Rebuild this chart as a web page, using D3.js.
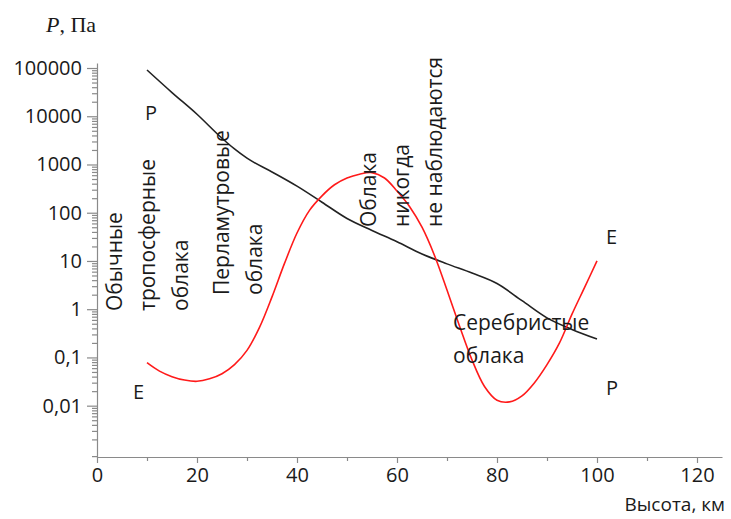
<!DOCTYPE html>
<html>
<head>
<meta charset="utf-8">
<script src="https://cdn.jsdelivr.net/npm/d3@7"></script>
<style>
	body { margin: 0; background: #fff; }
	.axis text { font-family: 'Open Sans', sans-serif; font-size: 20px; fill: #1a1a1a; }
	.axis path, .axis line { stroke: #8a8a8a; stroke-width: 1.2; }
	.note { font-family: 'Open Sans', sans-serif; font-size: 21px; fill: #1a1a1a; }
</style>
</head>
<body>
<div id="chart"></div>
<script>
// pressure P, Pa (black line)
const pHeights = [10, 15, 20, 25, 27.5, 30, 35, 40, 45, 50, 55, 60, 65, 70, 75, 80, 85, 90, 95, 100];
const pValues = [91000, 31000, 11000, 3500, 2100, 1350, 700, 355, 165, 76, 43, 25, 14, 8.7, 5.6, 3.4, 1.5, 0.66, 0.38, 0.24];

// E (red line)
const eHeights = [10, 12.5, 15, 17.5, 20, 22.5, 25, 27.5, 30, 32.5, 35, 37.5, 40, 42.5, 45, 47.5, 50, 52.5, 55, 57.5, 60, 62.5, 65, 67.5, 70, 72.5, 75, 77.5, 80, 82.5, 85, 87.5, 90, 92.5, 95, 97.5, 100];
const eValues = [0.078, 0.052, 0.04, 0.034, 0.032, 0.036, 0.046, 0.071, 0.14, 0.42, 1.8, 8.9, 38, 112, 224, 380, 525, 630, 676, 525, 282, 135, 50, 13, 2.5, 0.45, 0.089, 0.025, 0.013, 0.012, 0.016, 0.03, 0.071, 0.2, 0.79, 2.8, 10];

// ticks
const xTicks = [0, 20, 40, 60, 80, 100, 120];
const xMinorTicks = [10, 30, 50, 70, 90, 110];
const yTicks = [1e5, 1e4, 1000, 100, 10, 1, 0.1, 0.01];
const yTickLabels = ['100000', '10000', '1000', '100', '10', '1', '0,1', '0,01'];

// annotation texts
const tropoLines = ['Обычные', 'тропосферные', 'облака'];
const nacreLines = ['Перламутровые', 'облака'];
const neverLines = ['Облака', 'никогда', 'не наблюдаются'];
const silverLines = ['Серебристые', 'облака'];

class CloudVis {
	constructor(parentElement) {
		this.parentElement = parentElement;
		this.initVis();
	}

	initVis() {
		let vis = this;

		vis.width = 731;
		vis.height = 519;

		vis.svg = d3
			.select('#' + vis.parentElement)
			.append('svg')
			.attr('width', vis.width)
			.attr('height', vis.height);

		// scales
		vis.x = d3.scaleLinear().domain([0, 125]).range([97, 722]);
		vis.y = d3.scaleLog().domain([8.63e-4, 1.27e5]).range([457, 63]);

		vis.drawAxes();
		vis.updateVis();
	}

	drawAxes() {
		let vis = this;

		// minor log ticks
		let minor = [];
		for (let e = -4; e <= 5; e++) {
			for (let m = 2; m <= 9; m++) {
				let v = m * Math.pow(10, e);
				if (v > vis.y.domain()[0] && v < vis.y.domain()[1]) minor.push(v);
			}
		}

		vis.svg
			.append('g')
			.attr('class', 'axis')
			.attr('transform', `translate(${vis.x(0)}, 0)`)
			.call(d3.axisLeft(vis.y).tickValues(minor).tickFormat('').tickSize(5).tickSizeOuter(0))
			.select('.domain')
			.remove();

		vis.svg
			.append('g')
			.attr('class', 'axis')
			.attr('transform', `translate(${vis.x(0)}, 0)`)
			.call(
				d3
					.axisLeft(vis.y)
					.tickValues(yTicks)
					.tickFormat((d, i) => yTickLabels[i])
					.tickSize(10)
					.tickPadding(5)
					.tickSizeOuter(0)
			);

		vis.svg
			.append('g')
			.attr('class', 'axis')
			.attr('transform', `translate(0, ${vis.y.range()[0]})`)
			.call(d3.axisBottom(vis.x).tickValues(xMinorTicks).tickFormat('').tickSize(4).tickSizeOuter(0))
			.select('.domain')
			.remove();

		vis.svg
			.append('g')
			.attr('class', 'axis')
			.attr('transform', `translate(0, ${vis.y.range()[0]})`)
			.call(d3.axisBottom(vis.x).tickValues(xTicks).tickSize(6).tickPadding(5).tickSizeOuter(0));

		// axis titles
		let yTitle = vis.svg
			.append('text')
			.attr('x', 46)
			.attr('y', 32)
			.style('font-family', "'Liberation Serif', 'DejaVu Serif', serif")
			.style('font-size', '22px')
			.attr('fill', '#1a1a1a');
		yTitle.append('tspan').style('font-style', 'italic').text('P');
		yTitle.append('tspan').text(', Па');

		vis.svg
			.append('text')
			.attr('class', 'note')
			.attr('x', 725)
			.attr('y', 511)
			.attr('text-anchor', 'end')
			.style('font-size', '19px')
			.text('Высота, км');
	}

	updateVis() {
		let vis = this;

		let line = d3
			.line()
			.x((d) => vis.x(d[0]))
			.y((d) => vis.y(d[1]));

		vis.svg
			.append('path')
			.datum(d3.zip(pHeights, pValues))
			.attr('fill', 'none')
			.attr('stroke', '#222')
			.attr('stroke-width', 1.6)
			.attr('d', line.curve(d3.curveMonotoneX));

		vis.svg
			.append('path')
			.datum(d3.zip(eHeights, eValues))
			.attr('fill', 'none')
			.attr('stroke', '#ff1a1a')
			.attr('stroke-width', 1.6)
			.attr('d', line.curve(d3.curveCatmullRom.alpha(0.5)));

		// rotated cloud notes
		vis.addRotated(tropoLines, 122, 311, 33);
		vis.addRotated(nacreLines, 229, 295, 33);
		vis.addRotated(neverLines, 376, 227, 33);

		// silver clouds (horizontal)
		silverLines.forEach((t, i) => {
			vis.svg
				.append('text')
				.attr('class', 'note')
				.attr('x', 453)
				.attr('y', 330 + i * 33)
				.text(t);
		});

		// series letters
		const letters = [
			{ t: 'P', x: 145, y: 120 },
			{ t: 'E', x: 133, y: 399 },
			{ t: 'E', x: 606, y: 244 },
			{ t: 'P', x: 606, y: 395 }
		];
		letters.forEach((d) => {
			vis.svg.append('text').attr('class', 'note').style('font-size', '20px').attr('x', d.x).attr('y', d.y).text(d.t);
		});
	}

	addRotated(lines, x, y, step) {
		let vis = this;
		let g = vis.svg.append('g').attr('transform', `translate(${x}, ${y}) rotate(-90)`);
		lines.forEach((t, i) => {
			g.append('text').attr('class', 'note').attr('x', 0).attr('y', i * step).text(t);
		});
	}
}

new CloudVis('chart');
</script>
</body>
</html>
